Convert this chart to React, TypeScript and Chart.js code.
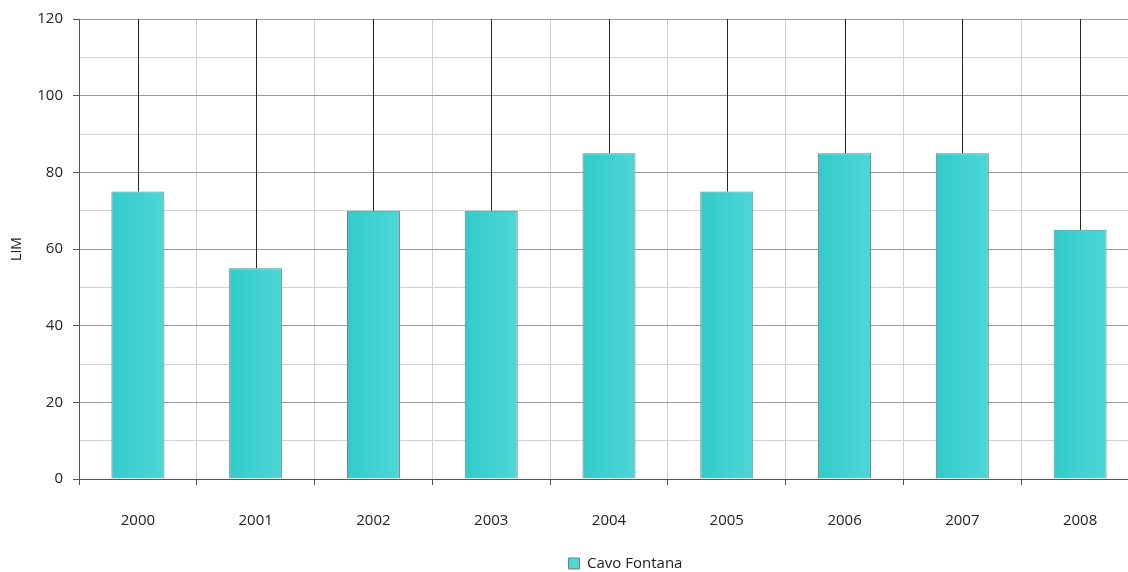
import React, { useEffect, useRef } from "react";
import { Chart, registerables } from "chart.js";

Chart.register(...registerables);

const years = ["2000", "2001", "2002", "2003", "2004", "2005", "2006", "2007", "2008"];
const limValues = [75, 55, 70, 70, 85, 75, 85, 85, 65];
const errorUpper = [120, 120, 120, 120, 120, 120, 120, 120, 120];
const seriesName = "Cavo Fontana";
const yMin = 0;
const yMax = 120;
const yStep = 10;

const FONT = "'Open Sans', 'DejaVu Sans', sans-serif";
const BAR_PCT = 0.45;
const LEGEND_SHIFT = 56;

const errorBarPlugin = {
  id: "errorBars",
  afterDatasetsDraw(chart: any) {
    const meta = chart.getDatasetMeta(0);
    const y = chart.scales.y;
    const ctx = chart.ctx;
    const area = chart.chartArea;
    ctx.save();
    ctx.beginPath();
    ctx.rect(area.left, area.top, area.right - area.left, area.bottom - area.top);
    ctx.clip();
    ctx.strokeStyle = "#262626";
    ctx.lineWidth = 1;
    meta.data.forEach((bar: any, i: number) => {
      const x = Math.round(bar.x) + 0.5;
      ctx.beginPath();
      ctx.moveTo(x, bar.y);
      ctx.lineTo(x, y.getPixelForValue(errorUpper[i]));
      ctx.stroke();
    });
    ctx.restore();
  },
};

const legendShiftPlugin = {
  id: "legendShift",
  afterLayout(chart: any) {
    const lg = chart.legend;
    if (lg) {
      lg.left += LEGEND_SHIFT;
      lg.right += LEGEND_SHIFT;
    }
  },
};

export default function App() {
  const ref = useRef<HTMLCanvasElement | null>(null);

  useEffect(() => {
    if (!ref.current) return;
    const chart = new Chart(ref.current, {
      type: "bar",
      data: {
        labels: years,
        datasets: [
          {
            label: seriesName,
            data: limValues,
            backgroundColor: (c: any) => {
              const ch = c.chart;
              const xs = ch.scales && ch.scales.x;
              if (!xs || c.dataIndex === undefined || !xs.width) return "#3ccfcf";
              const center = xs.getPixelForValue(c.dataIndex);
              const w = (xs.width / years.length) * BAR_PCT;
              const g = ch.ctx.createLinearGradient(center - w / 2, 0, center + w / 2, 0);
              g.addColorStop(0, "#31cbcb");
              g.addColorStop(1, "#4fd6d6");
              return g;
            },
            borderColor: "#6f7f7f",
            borderWidth: 1,
            categoryPercentage: 1,
            barPercentage: BAR_PCT,
          },
        ],
      },
      options: {
        responsive: false,
        animation: false,
        layout: { padding: { top: 18, right: 111, bottom: 0, left: 0 } },
        plugins: {
          legend: {
            position: "bottom",
            labels: {
              boxWidth: 11,
              boxHeight: 11,
              padding: 2,
              color: "#222",
              font: { family: FONT, size: 15 },
            },
          },
          tooltip: { enabled: false },
        },
        scales: {
          x: {
            offset: true,
            grid: {
              offset: true,
              color: "#cfcfcf",
              tickColor: "#555",
              tickLength: 6,
              lineWidth: 1,
            },
            border: { color: "#555", width: 1 },
            ticks: {
              color: "#222",
              padding: 27,
              maxRotation: 0,
              font: { family: FONT, size: 15 },
            },
            afterFit: (s: any) => {
              s.height = 75;
            },
          },
          y: {
            min: yMin,
            max: yMax,
            grid: {
              color: (c: any) => (c.tick && c.tick.value % 20 === 0 ? "#9a9a9a" : "#d2d2d2"),
              tickColor: (c: any) => (c.tick && c.tick.value % 20 === 0 ? "#555" : "rgba(0,0,0,0)"),
              tickLength: 6,
              lineWidth: 1,
            },
            border: { color: "#555", width: 1 },
            ticks: {
              stepSize: yStep,
              padding: 10,
              color: "#222",
              font: { family: FONT, size: 15 },
              callback: (v: any) => (Number(v) % 20 === 0 ? String(v) : ""),
            },
            title: {
              display: true,
              text: "LIM",
              color: "#222",
              padding: { top: 9, bottom: 0 },
              font: { family: FONT, size: 14 },
            },
            afterFit: (s: any) => {
              s.width = 79;
            },
          },
        },
      },
      plugins: [errorBarPlugin, legendShiftPlugin],
    });
    return () => chart.destroy();
  }, []);

  return (
    <div
      style={{
        position: "fixed",
        left: 0,
        top: 0,
        width: 1128,
        height: 572,
        overflow: "hidden",
        background: "#fff",
      }}
    >
      <canvas ref={ref} width={1250} height={581} style={{ width: 1250, height: 581, display: "block" }} />
    </div>
  );
}
